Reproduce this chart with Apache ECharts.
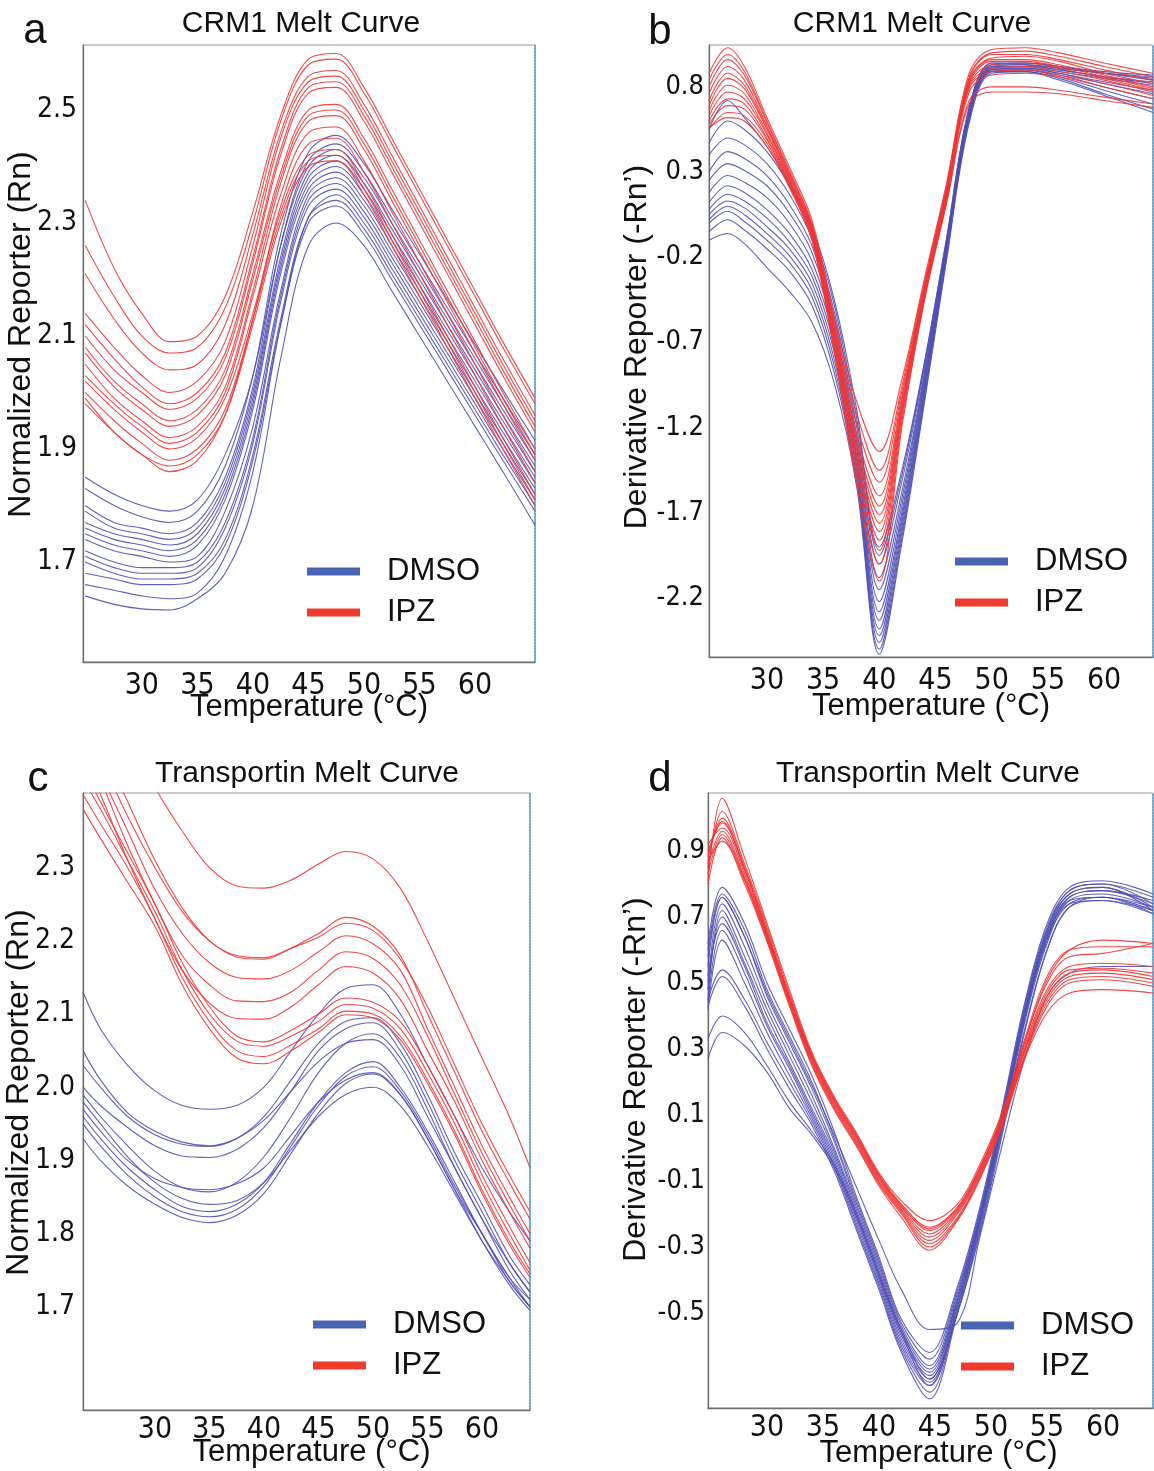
<!DOCTYPE html>
<html><head><meta charset="utf-8">
<script src="https://cdn.jsdelivr.net/npm/echarts@6/dist/echarts.min.js"></script>
<style>html,body{margin:0;padding:0;background:#fff}#c{width:1154px;height:1471px}</style>
</head><body><div id="c"></div>
<script>
// ---------- DATA ----------
const xTickLabels = [30, 35, 40, 45, 50, 55, 60];
const yTicksCrm1Raw = [1.7, 1.9, 2.1, 2.3, 2.5];
const yTicksCrm1Deriv = [-2.2, -1.7, -1.2, -0.7, -0.2, 0.3, 0.8];
const yTicksTrnRaw = [1.7, 1.8, 1.9, 2.0, 2.1, 2.2, 2.3];
const yTicksTrnDeriv = [-0.5, -0.3, -0.1, 0.1, 0.3, 0.5, 0.7, 0.9];

// (a) CRM1 normalized reporter
const tempCrm1Raw = [24.9, 27.5, 30, 32.5, 35, 37.5, 40, 42.5, 45, 47.5, 50, 52.5, 55, 57.5, 60, 62.5, 65.4];
const dmsoCrm1Raw = [
 [1.85,1.82,1.80,1.79,1.81,1.89,2.03,2.26,2.40,2.43,2.38,2.30,2.22,2.14,2.06,1.98,1.89],
 [1.83,1.80,1.78,1.77,1.79,1.87,2.03,2.28,2.425,2.455,2.405,2.325,2.245,2.165,2.085,2.005,1.915],
 [1.80,1.77,1.76,1.75,1.77,1.85,2.01,2.26,2.41,2.44,2.39,2.31,2.23,2.15,2.07,1.99,1.90],
 [1.79,1.76,1.75,1.74,1.76,1.84,2.00,2.24,2.39,2.42,2.37,2.29,2.21,2.13,2.05,1.97,1.88],
 [1.77,1.75,1.74,1.73,1.75,1.83,1.99,2.23,2.38,2.41,2.36,2.28,2.20,2.12,2.04,1.96,1.87],
 [1.76,1.74,1.73,1.72,1.74,1.82,1.98,2.22,2.37,2.40,2.35,2.27,2.19,2.11,2.03,1.95,1.86],
 [1.75,1.73,1.72,1.71,1.73,1.81,1.97,2.21,2.36,2.39,2.34,2.26,2.18,2.10,2.02,1.94,1.85],
 [1.74,1.72,1.71,1.70,1.71,1.79,1.94,2.18,2.35,2.38,2.33,2.25,2.17,2.09,2.01,1.93,1.84],
 [1.72,1.70,1.69,1.69,1.70,1.77,1.92,2.17,2.34,2.37,2.32,2.24,2.16,2.08,2.00,1.92,1.83],
 [1.71,1.69,1.68,1.68,1.69,1.76,1.91,2.16,2.33,2.36,2.31,2.23,2.15,2.07,1.99,1.91,1.82],
 [1.70,1.68,1.67,1.67,1.68,1.74,1.89,2.13,2.31,2.34,2.29,2.21,2.13,2.05,1.97,1.89,1.80],
 [1.68,1.67,1.66,1.66,1.67,1.73,1.88,2.12,2.30,2.33,2.28,2.20,2.12,2.04,1.96,1.88,1.79],
 [1.66,1.65,1.64,1.635,1.645,1.71,1.86,2.12,2.31,2.35,2.30,2.22,2.14,2.06,1.98,1.90,1.81],
 [1.64,1.625,1.617,1.615,1.635,1.68,1.80,2.06,2.26,2.30,2.26,2.18,2.10,2.02,1.94,1.86,1.765]
];
const ipzCrm1Raw = [
 [2.34,2.22,2.14,2.09,2.10,2.17,2.32,2.49,2.59,2.60,2.54,2.45,2.36,2.27,2.18,2.09,1.99],
 [2.26,2.17,2.10,2.07,2.08,2.15,2.30,2.48,2.58,2.59,2.53,2.44,2.35,2.26,2.17,2.08,1.98],
 [2.21,2.13,2.07,2.04,2.05,2.12,2.28,2.46,2.56,2.57,2.51,2.42,2.33,2.24,2.15,2.06,1.96],
 [2.14,2.08,2.03,2.00,2.02,2.09,2.26,2.45,2.55,2.56,2.50,2.41,2.32,2.23,2.14,2.05,1.95],
 [2.12,2.06,2.01,1.98,2.00,2.07,2.24,2.43,2.54,2.55,2.49,2.40,2.31,2.22,2.13,2.04,1.94],
 [2.10,2.04,2.00,1.97,1.99,2.06,2.23,2.42,2.53,2.54,2.48,2.39,2.30,2.21,2.12,2.03,1.93],
 [2.08,2.02,1.98,1.95,1.97,2.04,2.21,2.39,2.50,2.51,2.45,2.36,2.27,2.18,2.09,2.00,1.90],
 [2.07,2.01,1.97,1.94,1.96,2.03,2.20,2.38,2.49,2.50,2.44,2.35,2.26,2.17,2.08,1.99,1.89],
 [2.05,1.99,1.95,1.92,1.94,2.01,2.18,2.37,2.48,2.49,2.43,2.34,2.25,2.16,2.07,1.98,1.88],
 [2.03,1.98,1.94,1.91,1.93,2.00,2.17,2.35,2.46,2.47,2.41,2.32,2.23,2.14,2.05,1.96,1.86],
 [2.02,1.97,1.93,1.90,1.92,1.99,2.14,2.32,2.42,2.43,2.37,2.28,2.19,2.10,2.01,1.92,1.82],
 [2.00,1.95,1.91,1.88,1.90,1.97,2.13,2.31,2.41,2.42,2.36,2.27,2.18,2.09,2.00,1.91,1.81],
 [1.98,1.93,1.89,1.87,1.89,1.96,2.12,2.30,2.40,2.41,2.35,2.26,2.17,2.08,1.99,1.90,1.80],
 [1.99,1.93,1.89,1.86,1.88,1.96,2.13,2.33,2.44,2.45,2.39,2.30,2.21,2.12,2.03,1.94,1.84]
];

// (b) CRM1 derivative reporter
const tempCrm1Deriv = [24.85, 26.5, 28, 30, 32, 34, 36, 38, 40, 42, 44, 46, 48, 50, 53, 56, 60, 64.35];
const dmsoCrm1Deriv = [
 [0.47,0.60,0.55,0.42,0.22,-0.05,-0.48,-1.15,-1.90,-1.45,-0.82,-0.08,0.68,0.94,0.93,0.90,0.86,0.82],
 [0.40,0.50,0.46,0.35,0.17,-0.09,-0.52,-1.20,-2.00,-1.52,-0.85,-0.10,0.67,0.93,0.93,0.91,0.88,0.85],
 [0.30,0.42,0.38,0.28,0.11,-0.13,-0.56,-1.25,-2.08,-1.58,-0.88,-0.11,0.66,0.93,0.94,0.92,0.89,0.87],
 [0.25,0.35,0.31,0.22,0.06,-0.17,-0.60,-1.29,-2.15,-1.62,-0.90,-0.12,0.66,0.92,0.93,0.91,0.88,0.86],
 [0.18,0.28,0.24,0.15,0.00,-0.22,-0.64,-1.33,-2.22,-1.66,-0.92,-0.13,0.65,0.92,0.92,0.90,0.86,0.83],
 [0.12,0.22,0.18,0.08,-0.06,-0.27,-0.68,-1.37,-2.28,-1.70,-0.94,-0.14,0.65,0.91,0.92,0.89,0.85,0.81],
 [0.08,0.17,0.13,0.03,-0.11,-0.31,-0.72,-1.40,-2.33,-1.73,-0.96,-0.15,0.64,0.91,0.91,0.88,0.83,0.78],
 [0.05,0.13,0.09,-0.02,-0.15,-0.35,-0.76,-1.43,-2.38,-1.76,-0.98,-0.16,0.63,0.90,0.91,0.88,0.82,0.76],
 [0.02,0.10,0.05,-0.06,-0.19,-0.39,-0.80,-1.46,-2.42,-1.79,-1.00,-0.17,0.62,0.90,0.90,0.87,0.80,0.73],
 [0.00,0.07,0.01,-0.10,-0.23,-0.43,-0.84,-1.49,-2.46,-1.82,-1.02,-0.18,0.61,0.89,0.90,0.86,0.78,0.70],
 [-0.05,0.02,-0.04,-0.15,-0.28,-0.48,-0.88,-1.52,-2.50,-1.85,-1.04,-0.19,0.60,0.89,0.89,0.85,0.76,0.67],
 [-0.10,-0.06,-0.12,-0.26,-0.40,-0.58,-0.94,-1.55,-2.53,-1.88,-1.06,-0.21,0.59,0.88,0.89,0.84,0.75,0.65],
 [0.55,0.72,0.62,0.45,0.24,-0.02,-0.45,-1.10,-1.95,-1.48,-0.83,-0.09,0.68,0.94,0.94,0.92,0.88,0.84]
];
const ipzCrm1Deriv = [
 [0.88,1.03,0.92,0.62,0.33,0.02,-0.55,-1.05,-1.34,-0.92,-0.33,0.24,0.88,1.02,1.03,1.00,0.94,0.88],
 [0.84,0.99,0.89,0.60,0.31,0.00,-0.58,-1.12,-1.45,-0.96,-0.35,0.22,0.86,1.00,1.01,0.98,0.92,0.86],
 [0.80,0.96,0.87,0.59,0.30,-0.01,-0.60,-1.18,-1.52,-0.99,-0.37,0.21,0.85,0.99,0.99,0.96,0.90,0.84],
 [0.76,0.92,0.84,0.57,0.29,-0.02,-0.62,-1.24,-1.60,-1.02,-0.38,0.20,0.84,0.97,0.98,0.95,0.88,0.82],
 [0.72,0.88,0.81,0.56,0.28,-0.03,-0.64,-1.28,-1.66,-1.04,-0.39,0.19,0.83,0.96,0.96,0.93,0.87,0.80],
 [0.69,0.85,0.79,0.55,0.27,-0.04,-0.65,-1.31,-1.71,-1.06,-0.40,0.18,0.82,0.95,0.95,0.92,0.86,0.79],
 [0.66,0.81,0.76,0.53,0.26,-0.05,-0.67,-1.34,-1.76,-1.08,-0.41,0.17,0.81,0.93,0.94,0.91,0.85,0.78],
 [0.63,0.77,0.73,0.52,0.25,-0.06,-0.68,-1.37,-1.81,-1.10,-0.42,0.16,0.80,0.91,0.92,0.89,0.84,0.77],
 [0.60,0.73,0.70,0.50,0.24,-0.07,-0.70,-1.40,-1.86,-1.12,-0.43,0.15,0.79,0.89,0.90,0.87,0.82,0.75],
 [0.58,0.69,0.67,0.49,0.23,-0.08,-0.72,-1.44,-1.92,-1.14,-0.44,0.14,0.77,0.87,0.88,0.86,0.80,0.73],
 [0.55,0.65,0.63,0.47,0.22,-0.09,-0.74,-1.49,-2.00,-1.17,-0.45,0.13,0.72,0.80,0.80,0.78,0.74,0.70],
 [0.56,0.62,0.60,0.45,0.21,-0.10,-0.76,-1.54,-2.10,-1.20,-0.46,0.12,0.70,0.77,0.77,0.76,0.72,0.68]
];

// (c) Transportin normalized reporter
const tempTrnRaw = [23.4, 25, 27.5, 30, 32.5, 35, 37.5, 40, 42.5, 45, 47.5, 50, 52.5, 55, 57.5, 60, 62.5, 64.4];
const dmsoTrnRaw = [
 [2.13,2.08,2.03,1.995,1.975,1.97,1.975,2.00,2.05,2.10,2.135,2.14,2.10,2.03,1.96,1.89,1.83,1.79],
 [2.03,2.00,1.96,1.935,1.922,1.919,1.93,1.96,2.01,2.06,2.09,2.095,2.06,1.99,1.91,1.84,1.77,1.73],
 [2.00,1.975,1.945,1.92,1.906,1.904,1.915,1.945,1.995,2.05,2.08,2.088,2.05,1.98,1.90,1.83,1.76,1.72],
 [1.99,1.96,1.92,1.885,1.863,1.857,1.87,1.905,1.96,2.02,2.06,2.073,2.04,1.97,1.89,1.82,1.75,1.71],
 [1.96,1.93,1.89,1.86,1.837,1.83,1.84,1.87,1.925,1.98,2.02,2.035,2.00,1.94,1.87,1.80,1.74,1.70],
 [1.95,1.92,1.88,1.85,1.83,1.823,1.833,1.865,1.92,1.975,2.015,2.028,1.995,1.935,1.865,1.80,1.735,1.70],
 [1.93,1.90,1.865,1.84,1.822,1.815,1.825,1.855,1.91,1.965,2.005,2.018,1.99,1.93,1.86,1.79,1.73,1.695],
 [1.98,1.95,1.905,1.87,1.848,1.84,1.845,1.87,1.915,1.96,1.99,2.00,1.975,1.92,1.855,1.79,1.735,1.70],
 [1.97,1.94,1.90,1.875,1.863,1.86,1.868,1.89,1.935,1.98,2.01,2.02,1.99,1.93,1.86,1.80,1.74,1.71],
 [2.05,2.01,1.965,1.94,1.925,1.92,1.93,1.955,1.995,2.035,2.06,2.065,2.03,1.96,1.89,1.82,1.76,1.72]
];
const ipzTrnRaw = [
 [2.62,2.57,2.49,2.41,2.35,2.30,2.275,2.272,2.283,2.305,2.322,2.312,2.272,2.20,2.12,2.04,1.96,1.89],
 [2.50,2.45,2.37,2.30,2.24,2.20,2.178,2.175,2.19,2.21,2.232,2.22,2.18,2.10,2.02,1.94,1.87,1.82],
 [2.53,2.47,2.39,2.31,2.245,2.20,2.18,2.177,2.19,2.205,2.224,2.214,2.175,2.11,2.03,1.95,1.88,1.83],
 [2.49,2.43,2.35,2.27,2.21,2.17,2.15,2.148,2.16,2.185,2.207,2.196,2.16,2.08,2.00,1.92,1.85,1.80],
 [2.47,2.42,2.33,2.25,2.18,2.14,2.118,2.117,2.13,2.16,2.185,2.176,2.14,2.07,1.99,1.91,1.84,1.79],
 [2.45,2.40,2.31,2.23,2.16,2.115,2.094,2.093,2.11,2.14,2.165,2.156,2.12,2.05,1.98,1.90,1.83,1.78],
 [2.44,2.39,2.32,2.25,2.17,2.11,2.07,2.062,2.078,2.10,2.122,2.116,2.09,2.03,1.96,1.88,1.81,1.76],
 [2.42,2.38,2.31,2.24,2.16,2.10,2.063,2.056,2.07,2.09,2.113,2.108,2.08,2.02,1.95,1.87,1.80,1.75],
 [2.40,2.36,2.30,2.23,2.15,2.09,2.05,2.042,2.058,2.08,2.104,2.10,2.07,2.01,1.94,1.86,1.79,1.745],
 [2.38,2.34,2.28,2.22,2.14,2.08,2.04,2.032,2.05,2.075,2.099,2.095,2.065,2.005,1.935,1.855,1.785,1.74]
];

// (d) Transportin derivative reporter
const tempTrnDeriv = [24.73, 26, 28, 30, 32, 34, 36, 38, 40, 42, 44.5, 47, 49, 51, 53, 55, 57, 60, 64.46];
const dmsoTrnDeriv = [
 [0.62,0.79,0.68,0.50,0.36,0.22,0.05,-0.15,-0.33,-0.52,-0.62,-0.42,-0.18,0.12,0.44,0.68,0.79,0.81,0.77],
 [0.60,0.77,0.66,0.48,0.34,0.20,0.03,-0.16,-0.34,-0.53,-0.64,-0.43,-0.19,0.11,0.43,0.67,0.78,0.80,0.76],
 [0.55,0.76,0.64,0.46,0.32,0.18,0.02,-0.17,-0.35,-0.54,-0.66,-0.44,-0.20,0.10,0.42,0.66,0.78,0.80,0.74],
 [0.50,0.74,0.61,0.44,0.30,0.16,0.00,-0.18,-0.36,-0.55,-0.67,-0.45,-0.20,0.10,0.42,0.66,0.77,0.79,0.73],
 [0.45,0.72,0.58,0.42,0.28,0.14,-0.01,-0.19,-0.37,-0.56,-0.68,-0.46,-0.21,0.09,0.41,0.65,0.77,0.79,0.72],
 [0.48,0.70,0.56,0.40,0.26,0.12,-0.02,-0.20,-0.38,-0.57,-0.69,-0.46,-0.21,0.09,0.41,0.65,0.76,0.78,0.75],
 [0.52,0.68,0.55,0.38,0.25,0.11,-0.03,-0.21,-0.39,-0.58,-0.70,-0.47,-0.22,0.08,0.40,0.64,0.76,0.78,0.74],
 [0.44,0.66,0.53,0.37,0.24,0.10,-0.04,-0.22,-0.40,-0.59,-0.71,-0.48,-0.22,0.08,0.40,0.64,0.75,0.77,0.73],
 [0.42,0.63,0.50,0.35,0.22,0.09,-0.05,-0.23,-0.41,-0.60,-0.72,-0.48,-0.23,0.07,0.39,0.63,0.75,0.76,0.71],
 [0.45,0.54,0.45,0.32,0.20,0.08,-0.06,-0.24,-0.42,-0.61,-0.74,-0.49,-0.23,0.07,0.39,0.63,0.74,0.76,0.72],
 [0.43,0.52,0.43,0.30,0.18,0.07,-0.07,-0.25,-0.43,-0.62,-0.76,-0.50,-0.24,0.06,0.38,0.62,0.74,0.75,0.71],
 [0.33,0.40,0.35,0.25,0.14,0.05,-0.05,-0.20,-0.38,-0.55,-0.70,-0.50,-0.25,0.05,0.36,0.60,0.73,0.76,0.73],
 [0.27,0.35,0.31,0.23,0.12,0.04,-0.06,-0.21,-0.39,-0.56,-0.72,-0.50,-0.26,0.04,0.35,0.60,0.73,0.75,0.72],
 [0.58,0.76,0.64,0.47,0.33,0.19,0.04,-0.12,-0.28,-0.43,-0.55,-0.53,-0.27,0.01,0.27,0.46,0.53,0.55,0.55]
];
const ipzTrnDeriv = [
 [0.81,1.06,0.88,0.68,0.48,0.29,0.155,0.045,-0.075,-0.16,-0.22,-0.17,-0.05,0.11,0.33,0.52,0.60,0.61,0.61],
 [0.85,1.02,0.86,0.67,0.47,0.285,0.15,0.04,-0.08,-0.17,-0.24,-0.18,-0.06,0.10,0.32,0.50,0.58,0.59,0.62],
 [0.88,1.00,0.85,0.66,0.46,0.28,0.145,0.035,-0.085,-0.175,-0.25,-0.185,-0.065,0.095,0.31,0.48,0.55,0.56,0.55],
 [0.90,0.985,0.84,0.65,0.455,0.275,0.14,0.03,-0.09,-0.18,-0.26,-0.19,-0.07,0.09,0.30,0.47,0.54,0.545,0.53],
 [0.92,0.97,0.83,0.645,0.45,0.27,0.135,0.025,-0.095,-0.185,-0.27,-0.195,-0.075,0.085,0.295,0.46,0.53,0.54,0.52],
 [0.86,0.96,0.82,0.64,0.445,0.265,0.13,0.02,-0.10,-0.19,-0.28,-0.20,-0.08,0.08,0.29,0.45,0.52,0.53,0.51],
 [0.83,0.95,0.815,0.635,0.44,0.26,0.125,0.015,-0.105,-0.195,-0.29,-0.21,-0.085,0.075,0.28,0.44,0.51,0.52,0.50],
 [0.80,0.94,0.81,0.63,0.435,0.255,0.12,0.01,-0.11,-0.20,-0.30,-0.215,-0.09,0.07,0.275,0.43,0.50,0.51,0.49],
 [0.87,0.93,0.80,0.625,0.43,0.25,0.115,0.005,-0.115,-0.21,-0.31,-0.22,-0.095,0.065,0.27,0.41,0.47,0.48,0.47],
 [0.89,0.99,0.845,0.655,0.46,0.28,0.145,0.035,-0.085,-0.175,-0.245,-0.18,-0.06,0.10,0.32,0.51,0.60,0.63,0.62]
];

// ---------- LAYOUT / STYLE ----------
const fontNarrow = "'Liberation Sans Narrow','Arial Narrow','DejaVu Sans Condensed','Liberation Sans',Arial,sans-serif";
const fontReg = "'Liberation Sans',Arial,sans-serif";
const colDmso = '#5050b4', colIpz = '#ee3535';
const legDmso = '#4a64b4', legIpz = '#ee3b2e';

const panels = [
 {letter:'a', title:'CRM1 Melt Curve', titleX:301, titleTop:9, letterX:35, letterTop:10,
  grid:{left:83, top:45, width:452, height:617}, xMin:24.7, xMax:65.4, yMin:1.523, yMax:2.615,
  temps:tempCrm1Raw, dmso:dmsoCrm1Raw, ipz:ipzCrm1Raw, yTicks:yTicksCrm1Raw, yFont:28,
  yName:'Normalized Reporter (Rn)', yGap:46, yPad:38, yMargin:6, xMargin:9, xGap:30, xPad:0,
  legLeft:307, legTop:556},
 {letter:'b', title:'CRM1 Melt Curve', titleX:912, titleTop:9, letterX:660, letterTop:11,
  grid:{left:709, top:45, width:444, height:612}, xMin:24.85, xMax:64.35, yMin:-2.546, yMax:1.046,
  temps:tempCrm1Deriv, dmso:dmsoCrm1Deriv, ipz:ipzCrm1Deriv, yTicks:yTicksCrm1Deriv, yFont:27,
  yName:'Derivative Reporter (-Rn\u2019)', yGap:56, yPad:8, yMargin:5, xMargin:9, xGap:34, xPad:0,
  legLeft:955, legTop:546},
 {letter:'c', title:'Transportin Melt Curve', titleX:307, titleTop:759, letterX:38, letterTop:758,
  grid:{left:83, top:793, width:447, height:617}, xMin:23.4, xMax:64.4, yMin:1.559, yMax:2.402,
  temps:tempTrnRaw, dmso:dmsoTrnRaw, ipz:ipzTrnRaw, yTicks:yTicksTrnRaw, yFont:28,
  yName:'Normalized Reporter (Rn)', yGap:48, yPad:18, yMargin:8, xMargin:5, xGap:27, xPad:10,
  legLeft:313, legTop:1309},
 {letter:'d', title:'Transportin Melt Curve', titleX:928, titleTop:759, letterX:660, letterTop:758,
  grid:{left:708, top:793, width:445, height:615}, xMin:24.73, xMax:64.46, yMin:-0.788, yMax:1.076,
  temps:tempTrnDeriv, dmso:dmsoTrnDeriv, ipz:ipzTrnDeriv, yTicks:yTicksTrnDeriv, yFont:27,
  yName:'Derivative Reporter (-Rn\u2019)', yGap:56, yPad:42, yMargin:3, xMargin:5, xGap:30, xPad:16,
  legLeft:961, legTop:1310}
];

const grids = [], xAxes = [], yAxes = [], series = [], titles = [], legends = [];
panels.forEach((p, i) => {
  grids.push(Object.assign({show:true, borderColor:'#9a9a9a', borderWidth:1, backgroundColor:'#fff', containLabel:false, outerBoundsMode:'none'}, p.grid));
  xAxes.push({type:'value', gridIndex:i, min:p.xMin, max:p.xMax,
    axisLine:{show:true, onZero:false, lineStyle:{color:'#6f6f6f', width:1.3}},
    axisTick:{show:false}, splitLine:{show:false},
    axisLabel:{customValues:xTickLabels, margin:p.xMargin, fontSize:30, fontFamily:fontNarrow, color:'#111', formatter:v=>String(v)},
    name:'Temperature (\u00B0C)', nameLocation:'middle', nameGap:p.xGap, nameMoveOverlap:false,
    nameTextStyle:{fontSize:31, fontFamily:fontReg, color:'#111', padding:[0,0,0,p.xPad]}});
  yAxes.push({type:'value', gridIndex:i, min:p.yMin, max:p.yMax,
    axisLine:{show:true, onZero:false, lineStyle:{color:'#6f6f6f', width:1.3}},
    axisTick:{show:false}, splitLine:{show:false},
    axisLabel:{customValues:p.yTicks, margin:p.yMargin, fontSize:p.yFont, fontFamily:fontNarrow, color:'#111', formatter:v=>v.toFixed(1)},
    name:p.yName, nameLocation:'middle', nameGap:p.yGap, nameMoveOverlap:false,
    nameTextStyle:{fontSize:32, fontFamily:fontReg, color:'#111', padding:[0,0,0,p.yPad]}});
  yAxes.push({type:'value', gridIndex:i, position:'right', min:0, max:1,
    axisLine:{show:true, onZero:false, lineStyle:{color:'#4f9bd0', type:'dotted', width:1.5}},
    axisTick:{show:false}, axisLabel:{show:false}, splitLine:{show:false}});
  const mk = (rows, name, color) => rows.forEach(row => series.push({
    type:'line', name:name, xAxisIndex:i, yAxisIndex:i*2,
    data:p.temps.map((t, j) => [t, row[j]]),
    showSymbol:false, symbol:'none', smooth:0.35, clip:true, silent:true,
    lineStyle:{width:1.1, color:color, opacity:0.9},
    itemStyle:{color:name === 'DMSO' ? legDmso : legIpz}
  }));
  mk(p.dmso, 'DMSO', colDmso);
  mk(p.ipz, 'IPZ', colIpz);
  titles.push({text:p.title, left:p.titleX, top:p.titleTop, textAlign:'center', padding:0,
    textStyle:{fontSize:30, fontWeight:'normal', fontFamily:fontReg, color:'#111'}});
  titles.push({text:p.letter, left:p.letterX, top:p.letterTop, textAlign:'center', padding:0,
    textStyle:{fontSize:42, fontWeight:'normal', fontFamily:fontReg, color:'#111'}});
  legends.push({left:p.legLeft, top:p.legTop, orient:'vertical', padding:0, itemGap:10,
    itemWidth:53, itemHeight:8, icon:'rect', selectedMode:false,
    textStyle:{fontSize:31, fontFamily:fontReg, color:'#111', padding:[0,0,0,22]},
    data:[{name:'DMSO', itemStyle:{color:legDmso}}, {name:'IPZ', itemStyle:{color:legIpz}}]});
});

const chart = echarts.init(document.getElementById('c'), null, {renderer:'canvas'});
chart.setOption({
  animation:false, backgroundColor:'#fff',
  title:titles, grid:grids, xAxis:xAxes, yAxis:yAxes, legend:legends, series:series
});
</script>
</body></html>
